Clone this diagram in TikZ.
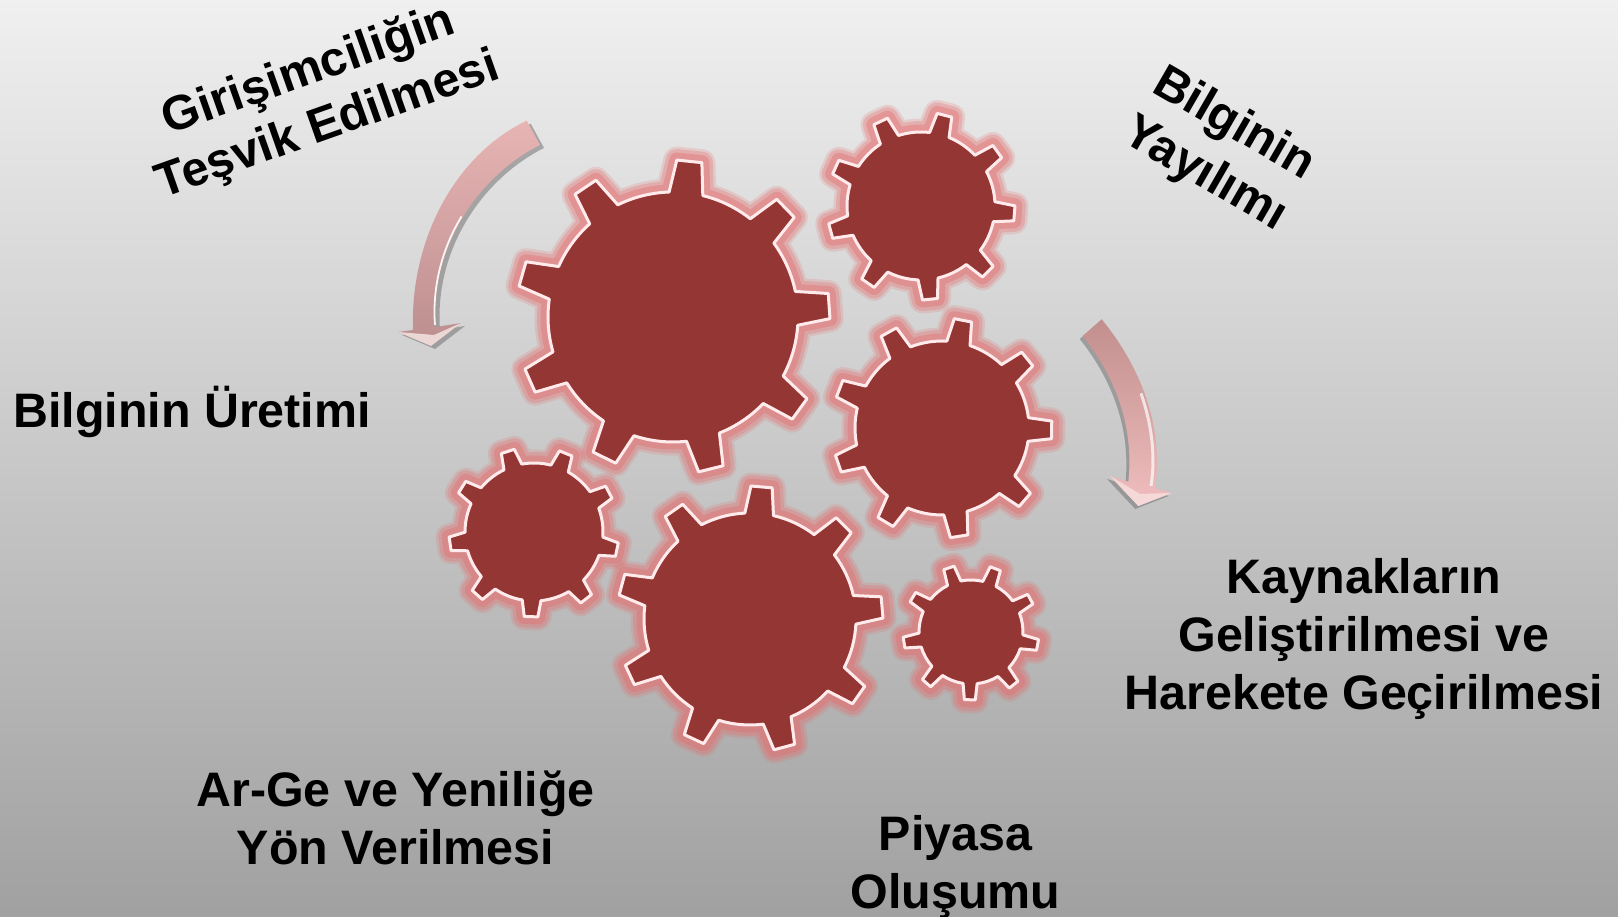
\documentclass[tikz,border=0pt]{standalone}
\usepackage{fontspec}
\setmainfont{Liberation Sans}
\definecolor{gearred}{RGB}{148,54,52}
\definecolor{halo}{RGB}{228,110,110}
\definecolor{pinkA}{RGB}{232,180,180}
\definecolor{pinkB}{RGB}{188,142,142}
\definecolor{pinkC}{RGB}{194,142,142}
\definecolor{pinkD}{RGB}{240,190,190}
\tikzset{
  x=1pt,y=1pt,
  labeltext/.style={font=\fontsize{48.4}{57.8}\bfseries\selectfont,align=center,text=black,inner sep=0pt},
  arrowL/.style={insert path={
    (526.7,796.3) .. controls (455,762) and (410,677) .. (413,587)
    -- (398,585) -- (431,571) -- (461,594) -- (436,590)
    .. controls (430,672) and (480,742) .. (540,772) -- cycle}},
  arrowR/.style={insert path={
    (1101.7,597.7) .. controls (1135,557) and (1165,497) .. (1155,428.7)
    -- (1171.7,424) -- (1138.3,411) -- (1110,441) -- (1128.3,435.3)
    .. controls (1135,497) and (1110,547) .. (1082.7,581) -- cycle}}
}
% #1 x, #2 y (from top), #3 base radius, #4 tip radius, #5 phase
\newcommand{\gearpath}[5]{%
  \path[shift={(#1,917-#2)},rotate=#5,every gear]
    (-7.8:#3pt) -- (-4.6:#4pt) -- (4.6:#4pt) -- (7.8:#3pt)
    \foreach \k in {1,...,8}{
      arc[start angle={40*(\k-1)+7.8},end angle={40*\k-7.8},radius=#3pt]
      -- ({40*\k-4.6}:#4pt) -- ({40*\k+4.6}:#4pt) -- ({40*\k+7.8}:#3pt)
    }
    arc[start angle=327.8,end angle=352.2,radius=#3pt] -- cycle;}
\newcommand{\allgears}{%
  \gearpath{673}{317}{125}{157}{4}
  \gearpath{921}{206}{74}{94}{-4.5}
  \gearpath{942}{428}{87}{110}{-1}
  \gearpath{534}{532}{69}{85}{-12}
  \gearpath{750}{619}{106}{133}{5}
  \gearpath{971}{632}{52}{68}{-11}}
\begin{document}
\begin{tikzpicture}[line join=round]
\useasboundingbox (0,0) rectangle (1618,917);
\shade[top color=black!6,bottom color=black!37] (0,0) rectangle (1618,917);

% glow
\tikzset{every gear/.style={draw=halo,opacity=.2,line width=27pt}}\allgears
\tikzset{every gear/.style={draw=halo,opacity=.3,line width=22pt}}\allgears
\tikzset{every gear/.style={draw=halo,opacity=.4,line width=15pt}}\allgears
% bodies
\tikzset{every gear/.style={draw=white!92!red,fill=gearred,line width=3pt}}\allgears

% left arrow
\fill[black!55,opacity=.55,shift={(4,-3)},arrowL];
\shade[top color=pinkA,bottom color=pinkB,arrowL];
\fill[white!70!pinkA,opacity=.8] (398,585) -- (431,571) -- (461,594) -- (434,582) -- cycle;
\draw[white,line width=1.8pt,opacity=.9] (435,592) .. controls (432,631) and (442.5,669) .. (461.5,700.5);

% right arrow
\fill[black!55,opacity=.55,shift={(-3,-3)},arrowR];
\shade[top color=pinkC,bottom color=pinkD,arrowR];
\fill[white!60!pinkD,opacity=.7] (1171.7,424) -- (1138.3,411) -- (1110,441) -- (1140,423) -- cycle;
\draw[white,line width=3pt,opacity=.7] (1141,523.6) .. controls (1151,494.9) and (1156,462.85) .. (1151,431);

% labels
\node[labeltext,rotate=19.5] (girisim) at (318.5,917-99) {Girişimciliğin\\Teşvik Edilmesi};
\node[labeltext,rotate=-30] (yayilim) at (1219,917-150) {Bilginin\\Yayılımı};
\node[labeltext] (uretim) at (192,917-412) {Bilginin Üretimi};
\node[labeltext] (kaynak) at (1364,917-639) {Kaynakların\\Geliştirilmesi ve\\Harekete Geçirilmesi};
\node[labeltext] (arge) at (395.5,917-818) {Ar-Ge ve Yeniliğe\\Yön Verilmesi};
\node[labeltext] (piyasa) at (955.5,917-867) {Piyasa\\Oluşumu};
\end{tikzpicture}
\end{document}
